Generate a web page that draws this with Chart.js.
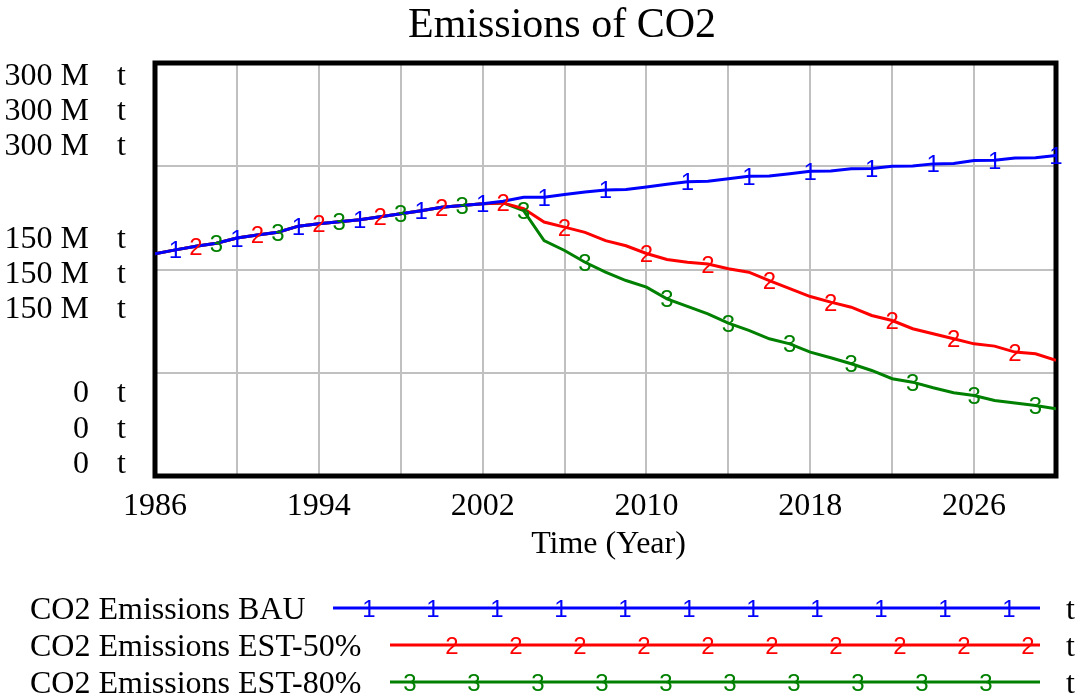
<!DOCTYPE html>
<html>
<head>
<meta charset="utf-8">
<title>Emissions of CO2</title>
<script src="https://cdn.jsdelivr.net/npm/chart.js@4.4.1/dist/chart.umd.min.js"></script>
<style>
  html, body { margin: 0; padding: 0; background: #fff; }
  #wrap { width: 1080px; height: 696px; }
</style>
</head>
<body>
<div id="wrap"><canvas id="chart" width="1080" height="696"></canvas></div>
<script>
// data (million tonnes per year)
const years = [1986, 1987, 1988, 1989, 1990, 1991, 1992, 1993, 1994, 1995,
  1996, 1997, 1998, 1999, 2000, 2001, 2002, 2003, 2004, 2005,
  2006, 2007, 2008, 2009, 2010, 2011, 2012, 2013, 2014, 2015,
  2016, 2017, 2018, 2019, 2020, 2021, 2022, 2023, 2024, 2025,
  2026, 2027, 2028, 2029, 2030];

const bau = [215.2, 219, 222.5, 225.5, 230.5, 233.5, 236.1, 242, 244.2, 246.2,
  248.2, 251, 253.9, 257, 260.3, 262, 263.6, 266.1, 270, 270,
  272.6, 275, 277, 277.5, 280, 282.5, 285, 285.5, 287.8, 290.3,
  290.5, 292.8, 295.2, 295.5, 297.5, 297.8, 300, 300.3, 302.3, 302.6,
  305.5, 305.7, 308, 308.2, 310.3];

const est50 = [215.2, 219, 222.5, 225.5, 230.5, 233.5, 236.1, 242, 244.2, 246.2,
  248.2, 251, 253.9, 257, 260.3, 262, 263.6, 264.5, 259, 246,
  241, 236, 228, 223, 215.5, 209.7, 207, 205.3, 200.7, 197.4,
  189.3, 181.5, 173.8, 168.4, 163.5, 155.5, 150.6, 142.6, 137.8, 132.9,
  128, 125.8, 120, 118.4, 112];

const est80 = [215.2, 219, 222.5, 225.5, 230.5, 233.5, 236.1, 242, 244.2, 246.2,
  248.2, 251, 253.9, 257, 260.3, 262, 263.6, 264.5, 257, 228,
  218.4, 207, 197.4, 189.3, 182.9, 171.6, 164.2, 157.1, 148, 141,
  132.9, 128, 120, 114.5, 108.7, 102.2, 94.2, 90.9, 85.5, 80.6,
  78, 73.2, 70.6, 68.3, 65.1];

// years where the series number is written on the line
const bauMarks = [1987, 1990, 1993, 1996, 1999, 2002, 2005, 2008, 2012, 2015, 2018, 2021, 2024, 2027, 2030];
const est50Marks = [1988, 1991, 1994, 1997, 2000, 2003, 2006, 2010, 2013, 2016, 2019, 2022, 2025, 2028];
const est80Marks = [1989, 1992, 1995, 1998, 2001, 2004, 2007, 2011, 2014, 2017, 2020, 2023, 2026, 2029];

const seriesNames = ['CO2 Emissions BAU', 'CO2 Emissions EST-50%', 'CO2 Emissions EST-80%'];
const seriesDigits = ['1', '2', '3'];
const seriesColors = ['#0000ff', '#ff0000', '#008000'];

const yLabelValues = [300, 150, 0];
const yLabelTexts = ['300 M', '150 M', '0'];
const xLabelYears = [1986, 1994, 2002, 2010, 2018, 2026];
const unit = 't';

const SERIF = '"Liberation Serif", "Times New Roman", serif';
const SANS = '"Liberation Sans", Arial, sans-serif';

function toPoints(vals) {
  return years.map((yr, i) => ({ x: yr, y: vals[i] }));
}

function digit(ctx, d, x, y, color) {
  ctx.font = '24px ' + SANS;
  ctx.fillStyle = color;
  ctx.textAlign = 'center';
  ctx.textBaseline = 'alphabetic';
  ctx.fillText(d, x, y + 8.5);
}

const markSets = [bauMarks, est50Marks, est80Marks];

const vensimLook = {
  id: 'vensimLook',
  beforeDatasetsDraw(chart) {
    // heavy frame round the plot
    const { ctx, chartArea: a } = chart;
    ctx.save();
    ctx.strokeStyle = '#000';
    ctx.lineWidth = 5;
    ctx.strokeRect(a.left, a.top, a.right - a.left, a.bottom - a.top);
    ctx.restore();
  },
  afterDatasetsDraw(chart) {
    const ctx = chart.ctx;
    ctx.save();
    chart.data.datasets.forEach((ds, k) => {
      const meta = chart.getDatasetMeta(k);
      markSets[k].forEach(yr => {
        const el = meta.data[years.indexOf(yr)];
        if (el) digit(ctx, seriesDigits[k], el.x, el.y, seriesColors[k]);
      });
    });
    ctx.restore();
  },
  afterDraw(chart) {
    const { ctx, chartArea: a, scales } = chart;
    ctx.save();
    ctx.fillStyle = '#000';
    ctx.textBaseline = 'alphabetic';

    // title
    ctx.font = '42px ' + SERIF;
    ctx.textAlign = 'center';
    ctx.fillText('Emissions of CO2', 562, 37);

    // y labels, one line per series
    ctx.font = '32px ' + SERIF;
    const lh = 35.3;
    const nudge = [-8, 0, 0];
    yLabelValues.forEach((v, g) => {
      const bottom = scales.y.getPixelForValue(v) - 3 + nudge[g];
      for (let i = 0; i < 3; i++) {
        const by = bottom - (2 - i) * lh;
        ctx.textAlign = 'right';
        ctx.fillText(yLabelTexts[g], 89, by);
        ctx.textAlign = 'left';
        ctx.fillText(unit, 117, by);
      }
    });

    // x labels
    ctx.textAlign = 'center';
    xLabelYears.forEach(yr => {
      ctx.fillText(String(yr), scales.x.getPixelForValue(yr), 515);
    });
    ctx.fillText('Time (Year)', (a.left + a.right) / 2 + 3, 553);

    // legend
    const rowBase = [619, 656, 693];
    const firstMark = [36, 62, 20];
    const lineEnd = 1040;
    seriesNames.forEach((name, k) => {
      ctx.font = '32px ' + SERIF;
      ctx.fillStyle = '#000';
      ctx.textAlign = 'left';
      ctx.fillText(name, 30, rowBase[k]);
      ctx.fillText(unit, 1066, rowBase[k]);
      const ly = rowBase[k] - 11;
      const start = k === 0 ? 333 : 390;
      ctx.strokeStyle = seriesColors[k];
      ctx.lineWidth = 3;
      ctx.beginPath();
      ctx.moveTo(start, ly);
      ctx.lineTo(lineEnd, ly);
      ctx.stroke();
      for (let x = start + firstMark[k]; x < lineEnd; x += 64) {
        digit(ctx, seriesDigits[k], x, ly, seriesColors[k]);
      }
    });
    ctx.restore();
  }
};

const seriesData = [bau, est50, est80];

new Chart(document.getElementById('chart'), {
  type: 'line',
  data: {
    datasets: seriesData.map((vals, k) => ({
      label: seriesNames[k],
      data: toPoints(vals),
      borderColor: seriesColors[k],
      borderWidth: 3,
      pointRadius: 0,
      tension: 0,
      fill: false
    }))
  },
  options: {
    responsive: false,
    animation: false,
    layout: { padding: { left: 155, right: 24, top: 63, bottom: 220 } },
    plugins: {
      legend: { display: false },
      tooltip: { enabled: false },
      title: { display: false }
    },
    scales: {
      x: {
        type: 'linear',
        min: 1986,
        max: 2030,
        ticks: { display: false, stepSize: 4 },
        grid: { color: '#c0c0c0', lineWidth: 2, drawTicks: false },
        border: { display: false }
      },
      y: {
        min: 0,
        max: 400,
        ticks: { display: false, stepSize: 100 },
        grid: { color: '#c0c0c0', lineWidth: 2, drawTicks: false },
        border: { display: false }
      }
    }
  },
  plugins: [vensimLook]
});
</script>
</body>
</html>
